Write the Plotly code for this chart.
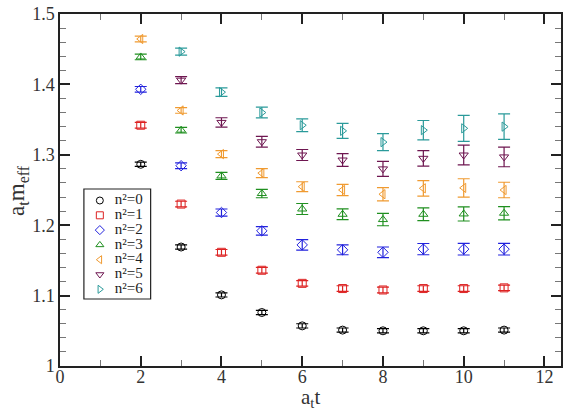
import plotly.graph_objects as go

# Effective mass plateaus for each squared momentum n^2
t_vals = [2, 3, 4, 5, 6, 7, 8, 9, 10, 11]
t_vals_hi = [3, 4, 5, 6, 7, 8, 9, 10, 11]

m_n0 = [1.2865, 1.169, 1.101, 1.076, 1.057, 1.051, 1.050, 1.050, 1.050, 1.051]
e_n0 = [0.003, 0.003, 0.003, 0.003, 0.003, 0.003, 0.003, 0.003, 0.003, 0.003]

m_n1 = [1.342, 1.230, 1.1615, 1.136, 1.1174, 1.110, 1.108, 1.110, 1.110, 1.111]
e_n1 = [0.004, 0.004, 0.004, 0.004, 0.004, 0.004, 0.004, 0.004, 0.004, 0.004]

m_n2 = [1.393, 1.2845, 1.218, 1.192, 1.172, 1.165, 1.1615, 1.166, 1.166, 1.166]
e_n2 = [0.004, 0.004, 0.005, 0.006, 0.0075, 0.007, 0.0075, 0.008, 0.0083, 0.0083]

m_n3 = [1.439, 1.335, 1.270, 1.245, 1.223, 1.2155, 1.208, 1.2155, 1.216, 1.217]
e_n3 = [0.004, 0.004, 0.005, 0.006, 0.0078, 0.0076, 0.0088, 0.009, 0.010, 0.0095]

m_n4 = [1.4645, 1.363, 1.301, 1.274, 1.2547, 1.250, 1.244, 1.2524, 1.253, 1.250]
e_n4 = [0.004, 0.004, 0.005, 0.0064, 0.007, 0.008, 0.0095, 0.011, 0.013, 0.011]

m_n5 = [1.406, 1.346, 1.3186, 1.2997, 1.2926, 1.280, 1.295, 1.2997, 1.297]
e_n5 = [0.005, 0.0066, 0.0076, 0.0078, 0.009, 0.0107, 0.011, 0.014, 0.014]

m_n6 = [1.4465, 1.389, 1.360, 1.342, 1.334, 1.318, 1.335, 1.3376, 1.340]
e_n6 = [0.005, 0.006, 0.0076, 0.009, 0.0107, 0.012, 0.0137, 0.0185, 0.018]

labels = ["n²=0", "n²=1", "n²=2", "n²=3", "n²=4", "n²=5", "n²=6"]
symbols = ["circle-open", "square-open", "diamond-open", "triangle-up-open",
           "triangle-left-open", "triangle-down-open", "triangle-right-open"]
colors = ["#000000", "#dd2222", "#2222dd", "#1f8f1f", "#f09a30", "#6e1650", "#2a9a9a"]

series = [
    (t_vals, m_n0, e_n0),
    (t_vals, m_n1, e_n1),
    (t_vals, m_n2, e_n2),
    (t_vals, m_n3, e_n3),
    (t_vals, m_n4, e_n4),
    (t_vals_hi, m_n5, e_n5),
    (t_vals_hi, m_n6, e_n6),
]

serif = "Liberation Serif"
ink = "#333333"

fig = go.Figure()
for (x, y, e), name, sym, col in zip(series, labels, symbols, colors):
    fig.add_trace(go.Scatter(
        x=x, y=y, mode="markers", name=name, showlegend=False,
        marker=dict(symbol=sym, size=8, color=col, line=dict(width=1, color=col)),
        error_y=dict(type="data", array=e, visible=True, color=col, thickness=1.2, width=6),
    ))

# Compact boxed legend drawn on an overlay axis measured in pixels of the plot area
PLOT_L, PLOT_R, PLOT_T, PLOT_B = 60, 563, 14, 366
leg_x0, leg_x1, leg_y0, leg_y1 = 84, 151, 189, 299
leg_sym_x, leg_txt_x, leg_first_y, leg_step = 100, 115, 200.5, 14.8
leg_rows = [leg_first_y + i * leg_step for i in range(len(labels))]

for name, sym, col, ry in zip(labels, symbols, colors, leg_rows):
    fig.add_trace(go.Scatter(
        x=[leg_sym_x], y=[ry], xaxis="x2", yaxis="y2", mode="markers",
        showlegend=False, hoverinfo="skip",
        marker=dict(symbol=sym, size=7, color=col, line=dict(width=1, color=col)),
    ))

fig.add_trace(go.Scatter(
    x=[leg_txt_x] * len(labels), y=leg_rows, xaxis="x2", yaxis="y2",
    mode="text", text=labels, textposition="middle right",
    textfont=dict(family=serif, size=15, color="#222222"),
    showlegend=False, hoverinfo="skip",
))

fig.add_shape(type="rect", xref="x2", yref="y2",
              x0=leg_x0, x1=leg_x1, y0=leg_y0, y1=leg_y1,
              line=dict(color="#222222", width=1.2), fillcolor="rgba(0,0,0,0)", layer="below")

axis_common = dict(
    showgrid=False, zeroline=False, showline=True, linecolor="#222222", linewidth=1.5,
    mirror="allticks", ticks="inside", ticklen=10, tickwidth=1.5, tickcolor="#222222",
    tickfont=dict(family=serif, size=18, color=ink),
)

fig.update_xaxes(
    range=[0, 12.41], tickvals=[0, 2, 4, 6, 8, 10, 12],
    ticklabelstandoff=-6,
    minor=dict(tickvals=[1, 3, 5, 7, 9, 11], ticks="inside", ticklen=6, tickwidth=1.2,
               tickcolor="#777777", showgrid=False),
    **axis_common,
)
fig.update_yaxes(
    range=[1.0, 1.5], tickvals=[1.0, 1.1, 1.2, 1.3, 1.4, 1.5],
    ticktext=["1", "1.1", "1.2", "1.3", "1.4", "1.5"],
    minor=dict(dtick=0.02, ticks="inside", ticklen=6, tickwidth=1.2,
               tickcolor="#777777", showgrid=False),
    **axis_common,
)

# Axis titles
fig.add_annotation(x=0.5, y=-0.132, xref="paper", yref="paper", text="a<sub>t</sub>t",
                   showarrow=False, xanchor="center", yanchor="bottom", borderpad=0,
                   font=dict(family=serif, size=21, color=ink))
fig.add_annotation(x=-0.052, y=0.5, xref="paper", yref="paper",
                   text="a<sub>t</sub>m<sub>eff</sub>", textangle=-90,
                   showarrow=False, xanchor="right", yanchor="middle",
                   font=dict(family=serif, size=23, color=ink))

fig.update_layout(
    width=563, height=412,
    margin=dict(l=PLOT_L, r=563 - PLOT_R, t=PLOT_T, b=412 - PLOT_B),
    plot_bgcolor="white", paper_bgcolor="white",
    showlegend=False,
    xaxis2=dict(overlaying="x", range=[PLOT_L, PLOT_R], visible=False, fixedrange=True),
    yaxis2=dict(overlaying="y", range=[PLOT_B, PLOT_T], visible=False, fixedrange=True),
)

fig.write_html("out.html")
